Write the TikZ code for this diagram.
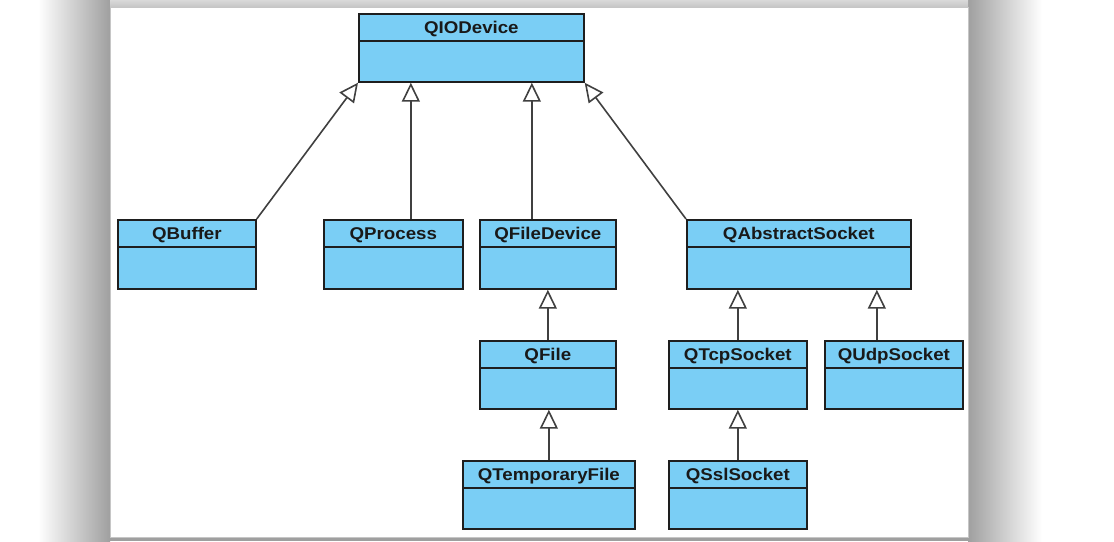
\documentclass[tikz,border=0pt]{standalone}
\usepackage{fontspec}
\setmainfont{Liberation Sans}[FakeStretch=1.1]
\usetikzlibrary{arrows.meta}
\definecolor{umlblue}{RGB}{122,206,245}
\definecolor{umlline}{RGB}{30,30,30}
\tikzset{
  cls/.style={draw=umlline, line width=1.7pt, fill=umlblue, inner sep=0pt, anchor=north west},
  ttl/.style={font=\bfseries\fontsize{17}{17}\selectfont, text=black!90, inner sep=0pt},
  inh/.style={draw=umlline!85, line width=1.6pt, -{Triangle[length=19pt,width=18pt,fill=white,line width=1.6pt]}},
}
\newcommand{\umlclass}[6]{%
  \pgfmathsetmacro\umlW{#4-#2}\pgfmathsetmacro\umlH{#5-#3}%
  \node[cls, minimum width=\umlW pt, minimum height=\umlH pt] (#1) at (#2,#3) {};
  \draw[umlline, line width=1.7pt] ([yshift=-28pt]#1.north west) -- ([yshift=-28pt]#1.north east);
  \node[ttl] (#1-t) at ([yshift=-16pt]#1.north) {#6};
}
\begin{document}
\begin{tikzpicture}[x=1pt,y=-1pt]
\useasboundingbox (0,0) rectangle (1114,541);
% shadow
\shade[left color=white, right color=gray!75] (38,0) rectangle (110,541);
\shade[left color=gray!75, right color=white] (968,0) rectangle (1042,541);
\shade[top color=gray!30, bottom color=gray!45] (110,0) rectangle (968,7);
\fill[gray!75] (110,537) rectangle (968,541);
% card
\fill[white] (110,7) rectangle (968,537);
\draw[gray!45, line width=0.6pt] (110,7) rectangle (968,537);
% classes
\umlclass{qio}{358}{13}{583}{81}{QIODevice}
\umlclass{qbuffer}{117}{219}{255}{288}{QBuffer}
\umlclass{qprocess}{323}{219}{462}{288}{QProcess}
\umlclass{qfiledev}{479}{219}{615}{288}{QFileDevice}
\umlclass{qabs}{686}{219}{910}{288}{QAbstractSocket}
\umlclass{qfile}{479}{340}{615}{408}{QFile}
\umlclass{qtcp}{668}{340}{806}{408}{QTcpSocket}
\umlclass{qudp}{824}{340}{962}{408}{QUdpSocket}
\umlclass{qtemp}{462}{460}{634}{528}{QTemporaryFile}
\umlclass{qssl}{668}{460}{806}{528}{QSslSocket}
% connectors
\coordinate (pp) at ([xshift=17.5pt]qprocess.north);
\coordinate (pf) at ([xshift=-16pt]qfiledev.north);
\coordinate (pu) at ([xshift=-17pt]qudp.north);
\draw[inh] (qbuffer.north east) -- (qio.south west);
\draw[inh] (pp) -- (pp |- qio.south);
\draw[inh] (pf) -- (pf |- qio.south);
\draw[inh] (qabs.north west) -- (qio.south east);
\draw[inh] (qfile.north) -- (qfile.north |- qfiledev.south);
\draw[inh] (qtemp.north) -- (qtemp.north |- qfile.south);
\draw[inh] (qtcp.north) -- (qtcp.north |- qabs.south);
\draw[inh] (pu) -- (pu |- qabs.south);
\draw[inh] (qssl.north) -- (qssl.north |- qtcp.south);
\end{tikzpicture}
\end{document}
